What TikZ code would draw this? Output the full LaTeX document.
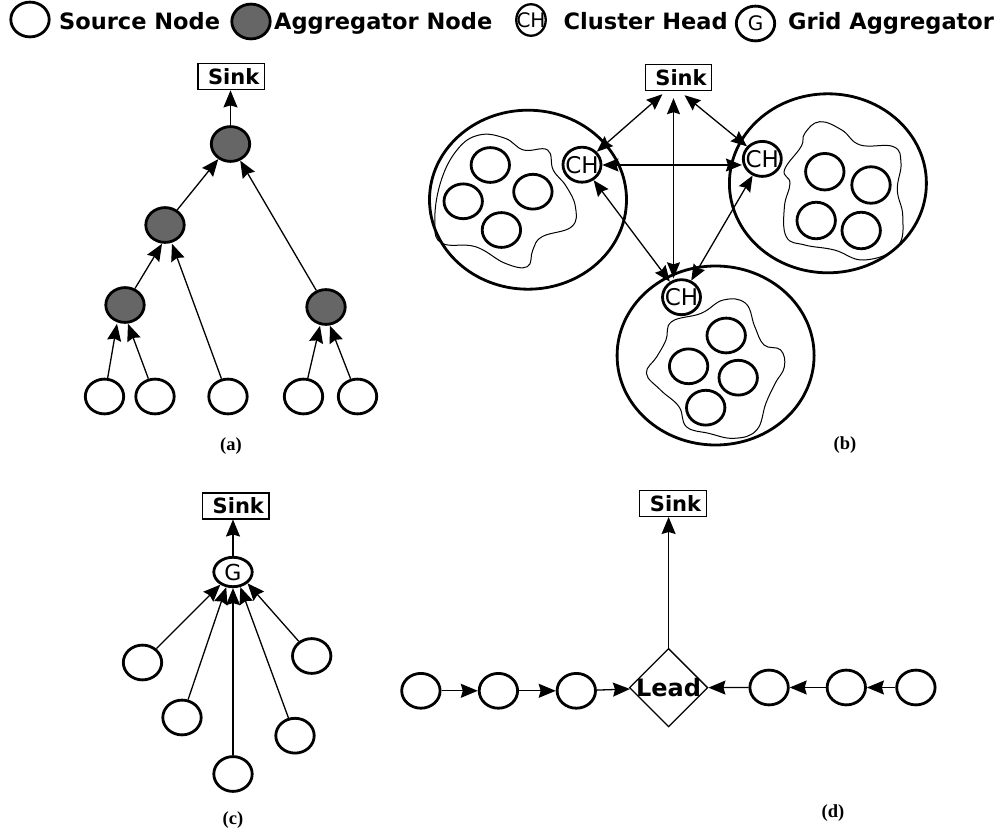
\documentclass[tikz,border=0pt]{standalone}
\usepackage{fontspec}
\setmainfont{DejaVu Sans}
\newfontfamily\capfont{Liberation Serif}
\usetikzlibrary{shapes.geometric,arrows.meta}
\definecolor{aggfill}{RGB}{102,102,102}
\begin{document}
\begin{tikzpicture}[x=1pt,y=-1pt,
  src/.style={ellipse,draw,line width=2.8pt,minimum width=38.4pt,minimum height=34.8pt,inner sep=0pt,fill=white},
  agg/.style={src,fill=aggfill},
  chnode/.style={ellipse,draw,line width=2.8pt,minimum width=38pt,minimum height=35pt,inner sep=0pt,fill=white,font=\fontsize{23}{23}\selectfont},
  sinkbox/.style={draw,line width=1.4pt,minimum width=66.5pt,minimum height=26pt,inner sep=0pt,font=\bfseries\fontsize{21}{21}\selectfont},
  arr/.style={line width=1.3pt,-{Stealth[length=17pt,width=14pt,inset=2pt]}},
  darr/.style={line width=1.3pt,{Stealth[length=16pt,width=13pt,inset=2pt]}-{Stealth[length=16pt,width=13pt,inset=2pt]}},
  legtext/.style={anchor=base west,inner sep=0pt,font=\bfseries\fontsize{22.5}{22.5}\selectfont},
  subcap/.style={inner sep=0pt,font=\capfont\bfseries\fontsize{18.5}{18.5}\selectfont},
  bigcl/.style={ellipse,draw,line width=2.8pt,minimum width=197pt,minimum height=179pt,inner sep=0pt},
  wavy/.style={line width=1pt},
  leadnode/.style={diamond,draw,line width=1.3pt,minimum width=78.5pt,minimum height=78.5pt,inner sep=0pt,font=\bfseries\fontsize{24}{24}\selectfont},
]
\useasboundingbox (0,0) rectangle (1005,832);

% ---------- legend ----------
\node[src] (lsrc) at (30,19.5) {};
\node[legtext] (lsrct) at (59,30) {Source Node};
\node[agg] (lagg) at (251,21.5) {};
\node[legtext] (laggt) at (274,30) {Aggregator Node};
\node[chnode,line width=2.3pt,minimum width=29.5pt,minimum height=31.5pt,font=\fontsize{20}{20}\selectfont] (lch) at (531,20) {\makebox[0pt]{CH}};
\node[legtext] (lcht) at (563.5,30) {Cluster Head};
\node[chnode,minimum width=38.4pt,minimum height=34.8pt,font=\fontsize{20}{20}\selectfont] (lg) at (755.5,23.5) {\makebox[0pt]{G}};
\node[legtext] (lgt) at (788,30) {Grid Aggregator};

% ---------- (a) ----------
\node[sinkbox] (sa) at (231.2,76.7) {\hspace*{5pt}Sink};
\node[agg] (ta) at (230.5,144) {};
\node[agg] (ml) at (165,225) {};
\node[agg] (bl) at (125,305) {};
\node[agg] (br) at (326,307) {};
\node[src] (s1) at (104.5,396.5) {};
\node[src] (s2) at (155,396.5) {};
\node[src] (s3) at (228,396.5) {};
\node[src] (s4) at (303.5,396.5) {};
\node[src] (s5) at (357.5,396.5) {};
\draw[arr] (ta.north) -- (ta.north |- sa.south);
\draw[arr] (ml) -- (ta);
\draw[arr] (br) -- (ta);
\draw[arr] (bl) -- ([xshift=-3pt]ml.south);
\draw[arr] (s3) -- ([xshift=7pt]ml.south);
\draw[arr] (s1) -- ([xshift=-8pt]bl.south);
\draw[arr] (s2) -- ([xshift=3pt]bl.south);
\draw[arr] (s4) -- ([xshift=-6pt]br.south);
\draw[arr] (s5) -- ([xshift=4pt]br.south);
\node[subcap] (capa) at (231,446) {(a)};

% ---------- (b) ----------
\node[bigcl] (BL) at (528,199.7) {};
\node[bigcl] (BR) at (827.9,183.3) {};
\node[bigcl] (BB) at (715.6,355.5) {};
\draw[wavy] plot[smooth cycle,tension=0.7] coordinates {(434.8,223.3) (440.3,183.3) (457,150) (479.2,135) (505.1,138.3) (523.6,150) (547.6,150) (553.2,170) (566,186) (575.4,206.7) (571.7,226.7) (542.1,236.7) (532.8,250) (527.3,266.7) (505.1,263.3) (475.5,246.7) (442.2,243.3)};
\draw[wavy] plot[smooth cycle,tension=0.7] coordinates {(804.8,133.3) (819.6,121.7) (841.8,130) (860.2,145) (893.5,146.7) (901,163.3) (897.3,190) (902.8,216.7) (897.3,246.7) (864,260) (834.4,250) (804.8,245) (786.3,236.7) (784.4,206.7) (790,183.3) (784.4,170) (801,146.7)};
\draw[wavy] plot[smooth cycle,tension=0.7] coordinates {(671.6,321.7) (701.2,313.3) (723.4,300) (745.6,303.3) (754.8,326.7) (764.1,345) (780.7,350) (784.4,366.7) (775.2,383.3) (765.9,403.3) (756.7,430) (734.5,438.3) (708.6,433.3) (686.4,426.7) (679,406.7) (660.5,390) (646.4,373.3) (656.8,356.7) (666,340)};
\node[src] (bl1) at (490.3,165) {};
\node[src] (bl2) at (463.2,201.3) {};
\node[src] (bl3) at (532.9,191.7) {};
\node[src] (bl4) at (501.4,230) {};
\node[src,minimum height=36.5pt] (br1) at (824.8,171.7) {};
\node[src,minimum height=36.5pt] (br2) at (871,185) {};
\node[src,minimum height=36.5pt] (br3) at (816.2,220.5) {};
\node[src,minimum height=36.5pt] (br4) at (861.2,230.5) {};
\node[src] (bb1) at (726.2,335.5) {};
\node[src] (bb2) at (688.6,366.3) {};
\node[src] (bb3) at (738.2,377.7) {};
\node[src] (bb4) at (705.7,407.7) {};
\node[sinkbox] (sb) at (678.5,77.5) {\hspace*{5pt}Sink};
\node[chnode] (cl) at (582,164.7) {\makebox[0pt]{CH}};
\node[chnode] (cr) at (762.3,158.9) {\makebox[0pt]{CH}};
\node[chnode] (cb) at (681.5,297.2) {\makebox[0pt]{CH}};
\draw[darr] ([xshift=-16pt,yshift=-3pt]sb.south) -- (cl);
\draw[darr] ([xshift=6pt,yshift=-4pt]sb.south) -- (cr);
\draw[darr] ([xshift=-5pt,yshift=-7pt]sb.south) -- ([xshift=-8pt]cb.north);
\draw[darr] (cl.east |- 0,165) -- (cr.west |- 0,165);
\draw[darr] (cl) -- (cb);
\draw[darr] (cr) -- (cb);
\node[subcap] (capb) at (845,445.5) {(b)};

% ---------- (c) ----------
\node[sinkbox] (sc) at (235.8,505.8) {\hspace*{5pt}Sink};
\node[chnode,minimum width=38.4pt,minimum height=29.4pt,font=\fontsize{22}{22}\selectfont] (gc) at (233,572) {\makebox[0pt]{G}};
\node[src] (n1) at (142.5,662.5) {};
\node[src] (n2) at (182,717.5) {};
\node[src] (n3) at (233,774) {};
\node[src] (n4) at (295,735.7) {};
\node[src] (n5) at (311.7,656) {};
\draw[arr] (gc.north) -- (gc.north |- sc.south);
\draw[arr] (n1) -- (gc.225);
\draw[arr] (n2) -- (gc.246);
\draw[arr] (n3) -- (gc.270);
\draw[arr] (n4) -- (gc.296);
\draw[arr] (n5) -- (gc.322);
\node[subcap] (capc) at (233,820) {(c)};

% ---------- (d) ----------
\node[sinkbox] (sd) at (673,503.3) {\hspace*{5pt}Sink};
\node[leadnode] (ld) at (668.6,687.7) {\makebox[0pt]{Lead}};
\node[src] (l1) at (420.9,690.8) {};
\node[src] (l2) at (498.4,690.8) {};
\node[src] (l3) at (576.3,690.8) {};
\node[src] (r1) at (769.1,687.5) {};
\node[src] (r2) at (846.3,687.5) {};
\node[src] (r3) at (915.9,687.5) {};
\draw[arr] (ld.north) -- (ld.north |- sd.south);
\draw[arr] (l1) -- (l2);
\draw[arr] (l2) -- (l3);
\draw[arr] (l3) -- (ld);
\draw[arr] (r1) -- (ld);
\draw[arr] (r2) -- (r1);
\draw[arr] (r3) -- (r2);
\node[subcap] (capd) at (833,813) {(d)};
\end{tikzpicture}
\end{document}
